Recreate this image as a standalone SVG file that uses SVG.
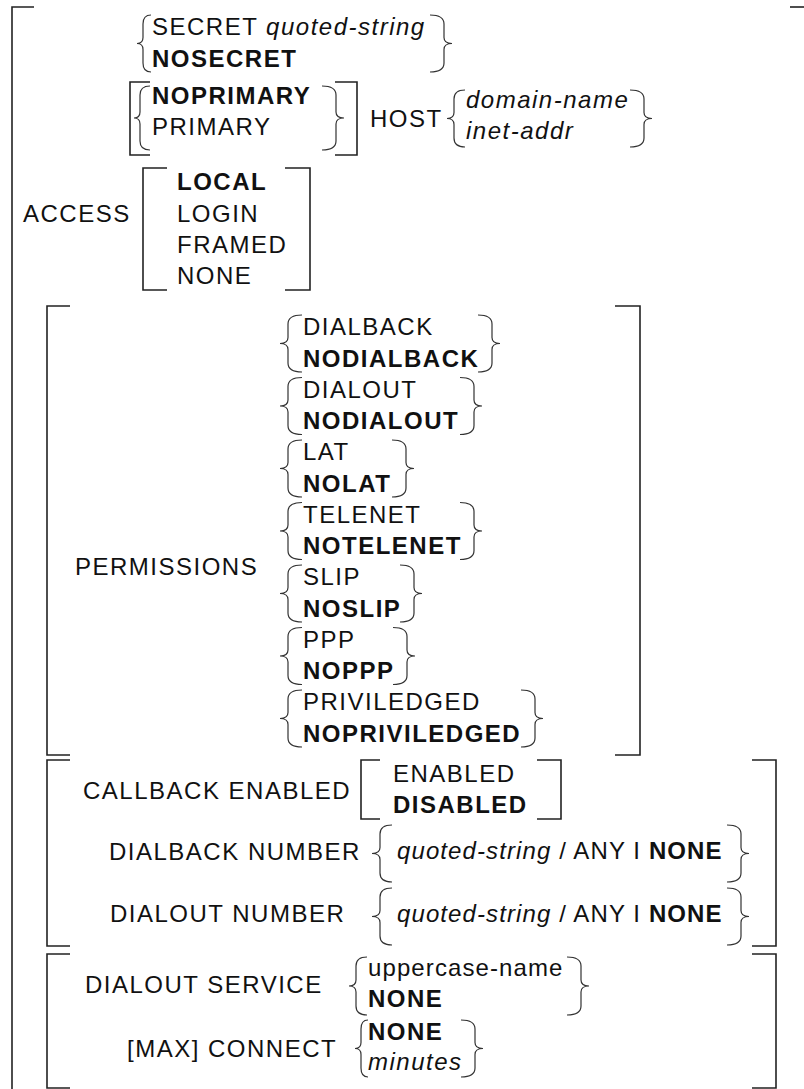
<svg xmlns="http://www.w3.org/2000/svg" width="804" height="1089" viewBox="0 0 804 1089">
<style>
.t{font-family:"Liberation Sans",Arial,Helvetica,sans-serif;font-size:24px;letter-spacing:1.5px;fill:#111}
.b{font-weight:bold}
.i{font-style:italic}
.n{letter-spacing:1.1px}
.sq{fill:none;stroke:#222;stroke-width:1.6}
.cb{fill:none;stroke:#333;stroke-width:1.2}
</style>
<rect width="804" height="1089" fill="#fff"/>
<g id="outer-bracket">
<path class="sq" d="M34 7H12V1089"/>
<path class="sq" d="M790 7H804"/>
</g>
<g id="secret">
<path class="cb" d="M151 15Q143 15 143 24V37.5Q143 43.5 137 43.5Q143 43.5 143 49.5V63Q143 72 151 72"/>
<text class="t" x="152" y="35">SECRET <tspan class="i">quoted-string</tspan></text>
<text class="t b" x="152" y="66.5">NOSECRET</text>
<path class="cb" d="M430 15Q444 15 444 24V37.5Q444 43.5 452 43.5Q444 43.5 444 49.5V63Q444 72 430 72"/>
</g>
<g id="primary-host">
<path class="sq" d="M150 82H130V155H150"/>
<path class="sq" d="M335 82H357V155H335"/>
<path class="cb" d="M150 86Q140 86 140 95V112Q140 118 134 118Q140 118 140 124V141Q140 150 150 150"/>
<text class="t b" x="152" y="104">NOPRIMARY</text>
<text class="t" x="152" y="135">PRIMARY</text>
<path class="cb" d="M322 86Q336 86 336 95V112Q336 118 344 118Q336 118 336 124V141Q336 150 322 150"/>
<text class="t" x="370" y="127">HOST</text>
<path class="cb" d="M465 90Q454 90 454 99V112.5Q454 118.5 447 118.5Q454 118.5 454 124.5V138Q454 147 465 147"/>
<text class="t i" x="466" y="108">domain-name</text>
<text class="t i" x="466" y="139">inet-addr</text>
<path class="cb" d="M630 90Q644 90 644 99V112.5Q644 118.5 652 118.5Q644 118.5 644 124.5V138Q644 147 630 147"/>
</g>
<g id="access">
<text class="t" x="23" y="222">ACCESS</text>
<path class="sq" d="M167 168H143V290H167"/>
<path class="sq" d="M285 168H310V290H285"/>
<text class="t b" x="177" y="190">LOCAL</text>
<text class="t" x="177" y="221.5">LOGIN</text>
<text class="t" x="177" y="252.5">FRAMED</text>
<text class="t" x="177" y="283.5">NONE</text>
</g>
<g id="permissions">
<path class="sq" d="M70 306H47V755H70"/>
<path class="sq" d="M615 306H640V755H615"/>
<text class="t" x="75" y="575">PERMISSIONS</text>
<path class="cb" d="M302 315Q288 315 288 324V337.5Q288 343.5 280 343.5Q288 343.5 288 349.5V363Q288 372 302 372"/>
<text class="t" x="303" y="335">DIALBACK</text>
<text class="t b" x="303" y="366.5">NODIALBACK</text>
<path class="cb" d="M478 315Q492 315 492 324V337.5Q492 343.5 500 343.5Q492 343.5 492 349.5V363Q492 372 478 372"/>
<path class="cb" d="M302 377.5Q288 377.5 288 386.5V400Q288 406 280 406Q288 406 288 412V425.5Q288 434.5 302 434.5"/>
<text class="t" x="303" y="397.5">DIALOUT</text>
<text class="t b" x="303" y="429">NODIALOUT</text>
<path class="cb" d="M460 377.5Q474 377.5 474 386.5V400Q474 406 482 406Q474 406 474 412V425.5Q474 434.5 460 434.5"/>
<path class="cb" d="M302 440Q288 440 288 449V462.5Q288 468.5 280 468.5Q288 468.5 288 474.5V488Q288 497 302 497"/>
<text class="t" x="303" y="460">LAT</text>
<text class="t b" x="303" y="491.5">NOLAT</text>
<path class="cb" d="M392 440Q406 440 406 449V462.5Q406 468.5 414 468.5Q406 468.5 406 474.5V488Q406 497 392 497"/>
<path class="cb" d="M302 502.5Q288 502.5 288 511.5V525Q288 531 280 531Q288 531 288 537V550.5Q288 559.5 302 559.5"/>
<text class="t" x="303" y="522.5">TELENET</text>
<text class="t b" x="303" y="554">NOTELENET</text>
<path class="cb" d="M460 502.5Q474 502.5 474 511.5V525Q474 531 482 531Q474 531 474 537V550.5Q474 559.5 460 559.5"/>
<path class="cb" d="M302 565Q288 565 288 574V587.5Q288 593.5 280 593.5Q288 593.5 288 599.5V613Q288 622 302 622"/>
<text class="t" x="303" y="585">SLIP</text>
<text class="t b" x="303" y="616.5">NOSLIP</text>
<path class="cb" d="M400 565Q414 565 414 574V587.5Q414 593.5 422 593.5Q414 593.5 414 599.5V613Q414 622 400 622"/>
<path class="cb" d="M302 627.5Q288 627.5 288 636.5V650Q288 656 280 656Q288 656 288 662V675.5Q288 684.5 302 684.5"/>
<text class="t" x="303" y="647.5">PPP</text>
<text class="t b" x="303" y="679">NOPPP</text>
<path class="cb" d="M393 627.5Q407 627.5 407 636.5V650Q407 656 415 656Q407 656 407 662V675.5Q407 684.5 393 684.5"/>
<path class="cb" d="M302 690Q288 690 288 699V712.5Q288 718.5 280 718.5Q288 718.5 288 724.5V738Q288 747 302 747"/>
<text class="t" x="303" y="710">PRIVILEDGED</text>
<text class="t b" x="303" y="741.5">NOPRIVILEDGED</text>
<path class="cb" d="M521 690Q535 690 535 699V712.5Q535 718.5 543 718.5Q535 718.5 535 724.5V738Q535 747 521 747"/>
</g>
<g id="callback">
<path class="sq" d="M70 760H47V946H70"/>
<path class="sq" d="M752 760H776V946H752"/>
<text class="t" x="83" y="799">CALLBACK ENABLED</text>
<path class="sq" d="M380 760H361V819H380"/>
<path class="sq" d="M537 760H561V819H537"/>
<text class="t" x="393" y="782">ENABLED</text>
<text class="t b" x="393" y="813">DISABLED</text>
</g>
<g id="dialback-number">
<text class="t" x="109" y="860">DIALBACK NUMBER</text>
<path class="cb" d="M392 825Q380 825 380 834V847.5Q380 853.5 372 853.5Q380 853.5 380 859.5V873Q380 882 392 882"/>
<text class="t n" x="397" y="859"><tspan class="i">quoted-string</tspan> / ANY I <tspan class="b">NONE</tspan></text>
<path class="cb" d="M727 825Q741 825 741 834V847.5Q741 853.5 749 853.5Q741 853.5 741 859.5V873Q741 882 727 882"/>
</g>
<g id="dialout-number">
<text class="t" x="110" y="922">DIALOUT NUMBER</text>
<path class="cb" d="M392 888Q380 888 380 897V910.5Q380 916.5 372 916.5Q380 916.5 380 922.5V936Q380 945 392 945"/>
<text class="t n" x="397" y="922"><tspan class="i">quoted-string</tspan> / ANY I <tspan class="b">NONE</tspan></text>
<path class="cb" d="M727 888Q741 888 741 897V910.5Q741 916.5 749 916.5Q741 916.5 741 922.5V936Q741 945 727 945"/>
</g>
<g id="dialout-service">
<path class="sq" d="M70 954H47V1088H70"/>
<path class="sq" d="M752 954H776V1088H752"/>
<text class="t" x="85" y="993">DIALOUT SERVICE</text>
<path class="cb" d="M367 957Q356 957 356 966V980Q356 986 349 986Q356 986 356 992V1006Q356 1015 367 1015"/>
<text class="t n" x="368" y="976">uppercase-name</text>
<text class="t b" x="368" y="1007">NONE</text>
<path class="cb" d="M567 957Q581 957 581 966V980Q581 986 589 986Q581 986 581 992V1006Q581 1015 567 1015"/>
</g>
<g id="max-connect">
<text class="t" x="127" y="1057">[MAX] CONNECT</text>
<path class="cb" d="M368 1020Q361 1020 361 1029V1042.5Q361 1048.5 355 1048.5Q361 1048.5 361 1054.5V1068Q361 1077 368 1077"/>
<text class="t b" x="368" y="1040">NONE</text>
<text class="t i" x="368" y="1070">minutes</text>
<path class="cb" d="M461 1020Q475 1020 475 1029V1042.5Q475 1048.5 483 1048.5Q475 1048.5 475 1054.5V1068Q475 1077 461 1077"/>
</g>
<g id="connectors"></g>
</svg>
